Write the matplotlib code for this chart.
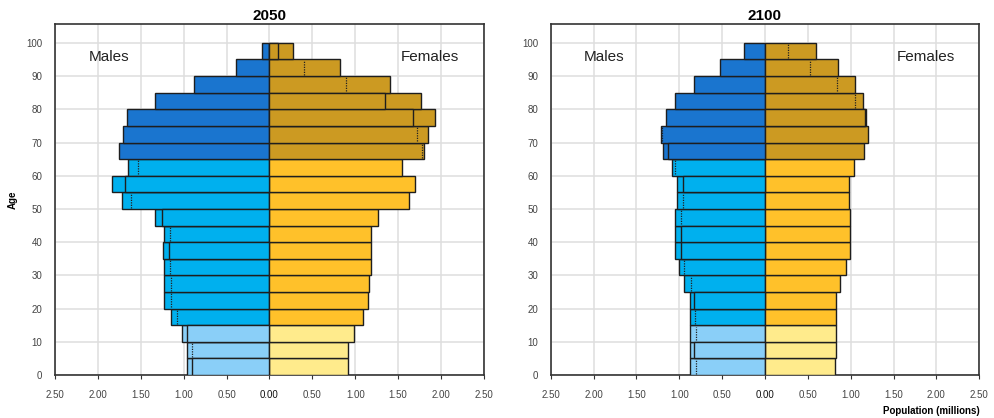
import numpy as np
import matplotlib
matplotlib.use("Agg")
import matplotlib.pyplot as plt

plt.rcParams['font.family'] = ['Liberation Sans', 'DejaVu Sans']

nan = float('nan')

# five-year age groups, youngest first
age_starts = list(range(0, 100, 5))
age_ticks = list(range(0, 101, 10))
pop_ticks = [-2.5, -2.0, -1.5, -1.0, -0.5, 0.0, 0.5, 1.0, 1.5, 2.0, 2.5]
pop_tick_labels = ["2.50", "2.00", "1.50", "1.00", "0.50", "0.00",
                   "0.50", "1.00", "1.50", "2.00", "2.50"]

# population in millions per age group: main bar, inner bar, dotted marker
males_2050 = [0.96, 0.96, 1.02, 1.15, 1.23, 1.23, 1.235, 1.24, 1.23, 1.335,
              1.72, 1.84, 1.65, 1.75, 1.71, 1.655, 1.335, 0.875, 0.385, 0.09]
males_2050_inner = [0.90, nan, 0.963, nan, nan, nan, nan, 1.168, nan, 1.254,
                    nan, 1.68, nan, nan, nan, nan, nan, nan, nan, nan]
males_2050_dotted = [nan, 0.905, nan, 1.08, 1.153, 1.153, 1.16, nan, 1.164, nan,
                     1.61, nan, 1.537, nan, nan, nan, nan, nan, nan, nan]
females_2050 = [0.92, 0.92, 0.98, 1.095, 1.15, 1.165, 1.18, 1.18, 1.185, 1.265,
                1.625, 1.695, 1.55, 1.80, 1.845, 1.93, 1.77, 1.40, 0.82, 0.27]
females_2050_inner = [nan, nan, nan, nan, nan, nan, nan, nan, nan, nan,
                      nan, nan, nan, nan, nan, 1.675, 1.342, nan, nan, 0.105]
females_2050_dotted = [nan, nan, nan, nan, nan, nan, nan, nan, nan, nan,
                       nan, nan, nan, 1.773, 1.715, nan, nan, 0.892, 0.407, nan]

males_2100 = [0.87, 0.88, 0.88, 0.88, 0.88, 0.94, 1.00, 1.045, 1.055, 1.045,
              1.025, 1.025, 1.08, 1.185, 1.215, 1.155, 1.055, 0.825, 0.52, 0.25]
males_2100_inner = [nan, 0.83, nan, nan, 0.833, nan, nan, 0.98, 0.98, nan,
                    nan, 0.962, nan, 1.137, nan, nan, nan, nan, nan, nan]
males_2100_dotted = [0.81, nan, 0.81, 0.822, nan, 0.864, 0.942, nan, nan, 0.98,
                     0.962, nan, 1.055, nan, 1.20, nan, nan, nan, nan, nan]
females_2100 = [0.82, 0.832, 0.832, 0.832, 0.832, 0.879, 0.949, 0.988, 0.988, 0.995,
                0.976, 0.976, 1.034, 1.151, 1.197, 1.178, 1.147, 1.05, 0.848, 0.599]
females_2100_inner = [nan, nan, nan, nan, nan, nan, nan, nan, nan, nan,
                      nan, nan, nan, nan, nan, 1.167, nan, nan, nan, nan]
females_2100_dotted = [nan, nan, nan, nan, nan, nan, nan, nan, nan, nan,
                       nan, nan, nan, nan, nan, nan, 1.05, 0.836, 0.529, 0.268]

# colours for children (0-14), working age (15-64) and elderly (65+)
male_colors = ['#8ACFF8', '#00B0EE', '#1A75CF']
female_colors = ['#FFEB8C', '#FFC12A', '#CC9A22']
edge = '#1e1e1e'
text_grey = '#444444'


def group_of(a):
    return 0 if a < 15 else (1 if a < 65 else 2)


def side(ax, y, sign, main, inner, dotted, palette):
    main = np.asarray(main, float)
    inner = np.asarray(inner, float)
    dotted = np.asarray(dotted, float)
    cols = np.array([palette[group_of(a)] for a in y])
    ax.barh(y, sign * main, height=5, align='edge', color=cols,
            edgecolor=edge, linewidth=1.0, zorder=3)
    m = ~np.isnan(inner)
    ax.barh(y[m], sign * inner[m], height=5, align='edge', color=cols[m],
            edgecolor=edge, linewidth=1.0, zorder=4)
    d = ~np.isnan(dotted)
    ax.vlines(sign * dotted[d], y[d] + 0.4, y[d] + 4.6, colors='#222222',
              linestyles=(0, (1, 1)), linewidth=0.9, zorder=5)


def panel(ax, year, m, mi, md, f, fi, fd, xlabel=None, ylabel=None):
    y = np.array(age_starts)
    side(ax, y, -1, m, mi, md, male_colors)
    side(ax, y, 1, f, fi, fd, female_colors)
    ax.set_xlim(-2.5, 2.5)
    ax.set_ylim(0, 105.6)
    ax.set_xticks(pop_ticks)
    ax.set_xticklabels(pop_tick_labels)
    ax.set_yticks(age_ticks)
    for lab, t in zip(ax.get_xticklabels(), pop_ticks):
        lab.set_color('#111111' if t == 0 else text_grey)
    ax.tick_params(axis='x', length=3, width=0.8, pad=8, labelsize=7,
                   color='#333333')
    ax.tick_params(axis='y', length=0, pad=9, labelsize=7, labelcolor=text_grey)
    ax.grid(True, color='#dedede', linewidth=1.1, zorder=0)
    ax.set_axisbelow(True)
    for s in ax.spines.values():
        s.set_linewidth(1.2)
        s.set_color('#333333')
    ax.set_title(year, fontsize=11, fontweight='bold', pad=3)
    ax.text(-1.875, 95.8, 'Males', fontsize=11, ha='center', va='center',
            color='#222222', zorder=6)
    ax.text(1.875, 95.8, 'Females', fontsize=11, ha='center', va='center',
            color='#222222', zorder=6)
    if ylabel:
        ax.set_ylabel(ylabel, fontsize=7, fontweight='bold', labelpad=6)
    if xlabel:
        ax.set_xlabel(xlabel, fontsize=7, fontweight='bold')
        ax.xaxis.set_label_coords(1.0, -0.088)
        ax.xaxis.label.set_ha('right')


fig = plt.figure(figsize=(9.94, 4.18), dpi=100)
ax1 = fig.add_axes([0.0553, 0.1029, 0.4316, 0.8390])
ax2 = fig.add_axes([0.5540, 0.1029, 0.4312, 0.8390])

panel(ax1, '2050', males_2050, males_2050_inner, males_2050_dotted,
      females_2050, females_2050_inner, females_2050_dotted, ylabel='Age')
panel(ax2, '2100', males_2100, males_2100_inner, males_2100_dotted,
      females_2100, females_2100_inner, females_2100_dotted,
      xlabel='Population (millions)')

fig.savefig('out.png', dpi=100)
